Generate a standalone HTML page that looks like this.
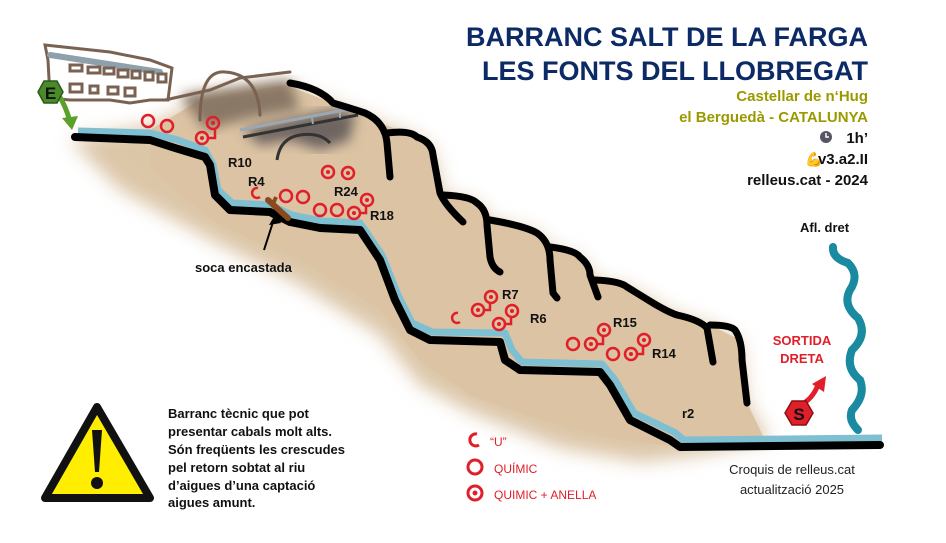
<!DOCTYPE html>
<html><head><meta charset="utf-8"><style>
html,body{margin:0;padding:0;background:#fff;}
svg{display:block;font-family:"Liberation Sans",Arial,sans-serif;}
.b{font-weight:bold;font-size:13px;fill:#111;}
</style></head><body>
<svg width="946" height="543" viewBox="0 0 946 543" xmlns="http://www.w3.org/2000/svg">
<defs>
<filter id="bl" x="-10%" y="-10%" width="120%" height="120%"><feGaussianBlur stdDeviation="9"/></filter>
<filter id="bl2"><feGaussianBlur stdDeviation="6"/></filter>
</defs>
<!-- tan area blurred -->
<path filter="url(#bl)" fill="#dcc6a8" d="M70,140 L150,125 L200,100 L285,85 L333,103 L380,123 L417,137 L433,150 L443,195 L477,203 L490,220 L537,233 L553,250 L580,257 L595,280 L627,287 L677,315 L710,325 L740,340 L747,403 L770,440 L700,455 L640,462 L560,448 L470,412 L420,385 L380,335 L300,285 L220,245 L120,190 Z"/>
<path fill="#dbc3a3" d="M150,130 L200,100 L285,85 L333,103 L380,123 L417,137 L433,150 L443,195 L477,203 L490,220 L537,233 L553,250 L580,257 L595,280 L627,287 L677,315 L710,325 L740,340 L747,403 L765,440 L690,448 L620,440 L540,420 L470,395 L420,360 L380,310 L300,260 L220,225 L150,170 Z"/>
<!-- shadows -->
<path filter="url(#bl2)" fill="#8a7866" d="M180,95 L290,80 L300,110 L250,118 L205,130 Z"/>
<path filter="url(#bl2)" fill="#6e6560" d="M243,130 L330,110 L355,112 L350,140 L320,150 L290,140 L260,145 Z"/>
<!-- building -->
<g fill="none" stroke="#7a6252" stroke-width="3" stroke-linecap="round">
<path d="M45,45 L110,52 L150,60 L172,68 L168,100 L150,100 L130,103 L110,100 L70,100 L50,98 L48,60 Z"/>
<path d="M50,55 L160,72" stroke="#8ea0aa" stroke-width="6"/>
<rect x="70" y="65" width="12" height="6"/><rect x="88" y="67" width="12" height="6"/><rect x="104" y="68" width="10" height="6"/><rect x="118" y="70" width="10" height="7"/><rect x="132" y="71" width="8" height="7"/><rect x="145" y="72" width="8" height="8"/><rect x="158" y="74" width="8" height="8"/>
<rect x="70" y="84" width="12" height="8"/><rect x="90" y="86" width="8" height="7"/><rect x="108" y="87" width="10" height="7"/><rect x="125" y="88" width="10" height="8"/>
<path d="M165,100 L210,90 L240,78 L290,72"/>
<path d="M200,120 Q200,70 225,72 Q258,74 260,115"/>
</g>
<!-- second bridge -->
<path d="M240,130 L355,108" stroke="#9aa8b4" stroke-width="3" fill="none"/>
<path d="M243,137 L358,115" stroke="#333" stroke-width="3" fill="none"/>
<path d="M312,118 L313,124 M340,112 L340,118" stroke="#9aa8b4" stroke-width="2"/>
<path d="M277,160 Q280,138 300,135 Q320,132 330,143" stroke="#333" stroke-width="3" fill="none"/>
<!-- ridges -->
<g fill="none" stroke="#000" stroke-width="7" stroke-linecap="round" stroke-linejoin="round">
<path d="M290,83 Q320,88 333,103 Q350,108 365,113 Q385,122 387,143 L390,177"/>
<path d="M387,133 Q410,130 417,137 Q432,142 433,155 L440,193 Q445,205 463,222"/>
<path d="M443,195 Q470,196 477,203 Q487,210 487,225 L490,257 Q492,268 500,272"/>
<path d="M490,220 Q525,226 537,233 Q550,242 550,260 L553,293 L557,298"/>
<path d="M550,247 Q575,250 580,257 Q590,265 590,275 L598,297"/>
<path d="M595,280 Q620,281 627,287 Q640,295 653,303 Q668,312 677,315 Q700,320 707,328 Q710,345 713,362"/>
<path d="M710,325 Q730,325 735,330 Q742,340 742,360 L747,403"/>
</g>
<!-- river -->
<path d="M78,131 L150,133 L178,140 L205,150 L213,165 L218,190 L232,203 L270,205 L292,215 L322,221 L360,223 L382,255 L398,295 L412,323 L432,332 L505,333 L512,350 L522,362 L602,364 L615,380 L634,413 L674,432 L684,440 L882,438" fill="none" stroke="#7fbfd2" stroke-width="7" stroke-linejoin="round"/>
<path d="M75,137 L150,140 L175,148 L205,157 L210,165 L215,195 L230,210 L270,212 L290,222 L320,228 L360,230 L380,260 L395,300 L410,330 L430,340 L500,342 L505,360 L520,370 L600,372 L610,385 L630,420 L670,440 L680,447 L880,445" fill="none" stroke="#000" stroke-width="8" stroke-linecap="round" stroke-linejoin="round"/>
<!-- stump -->
<path d="M268,200 L288,218" stroke="#8a4a1f" stroke-width="6" stroke-linecap="round"/>
<path d="M273,204 L276,197" stroke="#8a4a1f" stroke-width="4"/>
<path d="M274,219 L264,250" stroke="#000" stroke-width="2"/>
<path d="M276,213 L269,225 L281,223 Z" fill="#000"/>
<!-- tributary -->
<path d="M833,247 Q832,258 848,263 Q860,275 850,290 Q842,305 858,318 Q868,335 852,350 Q845,368 860,380 Q866,395 852,410 Q848,420 858,430" fill="none" stroke="#1a8aa0" stroke-width="8" stroke-linecap="round"/>
<!-- markers -->
<g fill="none" stroke="#e01f2a" stroke-width="2.5">
<circle cx="148" cy="121" r="6"/><circle cx="167" cy="126" r="6"/>
<circle cx="286" cy="196" r="6"/><circle cx="303" cy="197" r="6"/><circle cx="320" cy="210" r="6"/><circle cx="337" cy="210" r="6"/>
<circle cx="573" cy="344" r="6"/><circle cx="613" cy="354" r="6"/>
<circle cx="202" cy="138" r="6"/><circle cx="213" cy="123" r="6"/><path d="M208,138 L215,138 L215,129"/>
<circle cx="328" cy="172" r="6"/><circle cx="348" cy="173" r="6"/>
<circle cx="367" cy="200" r="6"/><circle cx="354" cy="213" r="6"/><path d="M360,213 L366,213 L366,206"/>
<circle cx="491" cy="297" r="6"/><circle cx="478" cy="310" r="6"/><path d="M484,310 L490,310 L490,303"/>
<circle cx="512" cy="311" r="6"/><circle cx="499" cy="324" r="6"/><path d="M505,324 L511,324 L511,317"/>
<circle cx="591" cy="344" r="6"/><circle cx="604" cy="330" r="6"/><path d="M597,344 L603,344 L603,336"/>
<circle cx="631" cy="354" r="6"/><circle cx="644" cy="340" r="6"/><path d="M637,354 L643,354 L643,346"/>
<path d="M258,188 A5,5 0 1 0 260,197"/><path d="M458,313 A5,5 0 1 0 460,322"/>
<circle cx="475" cy="467" r="7" stroke-width="3"/><circle cx="475" cy="493" r="7" stroke-width="3"/>
<path d="M477,434 A6,6 0 1 0 479,445" stroke-width="3"/>
</g>
<g fill="#e01f2a">
<circle cx="202" cy="138" r="2"/><circle cx="213" cy="123" r="2"/><circle cx="328" cy="172" r="2"/><circle cx="348" cy="173" r="2"/><circle cx="367" cy="200" r="2"/><circle cx="354" cy="213" r="2"/>
<circle cx="491" cy="297" r="2"/><circle cx="478" cy="310" r="2"/><circle cx="512" cy="311" r="2"/><circle cx="499" cy="324" r="2"/>
<circle cx="591" cy="344" r="2"/><circle cx="604" cy="330" r="2"/><circle cx="631" cy="354" r="2"/><circle cx="644" cy="340" r="2"/><circle cx="475" cy="493" r="2.5"/>
</g>
<!-- labels -->
<text class="b" x="228" y="167">R10</text><text class="b" x="248" y="186">R4</text>
<text class="b" x="334" y="196">R24</text><text class="b" x="370" y="220">R18</text>
<text class="b" x="502" y="299">R7</text><text class="b" x="530" y="323">R6</text>
<text class="b" x="613" y="327">R15</text><text class="b" x="652" y="358">R14</text>
<text class="b" x="682" y="418">r2</text>
<text class="b" x="195" y="272">soca encastada</text>
<text class="b" x="800" y="232">Afl. dret</text>
<text x="802" y="345" text-anchor="middle" font-weight="bold" font-size="13" fill="#e01f2a">SORTIDA</text>
<text x="802" y="363" text-anchor="middle" font-weight="bold" font-size="13" fill="#e01f2a">DRETA</text>
<!-- E hexagon -->
<path d="M58,94 Q66,106 70,122" stroke="#5aa02a" stroke-width="5" fill="none"/>
<path d="M62,118 L78,116 L72,130 Z" fill="#5aa02a"/>
<polygon points="38,92 44,81 57,81 63,92 57,103 44,103" fill="#4a8a2a" stroke="#2a5a1a" stroke-width="1.5"/>
<text x="50.5" y="99" text-anchor="middle" font-weight="bold" font-size="17" fill="#111">E</text>
<!-- S hexagon -->
<path d="M800,405 Q812,400 818,385" stroke="#e01f2a" stroke-width="5" fill="none"/>
<path d="M812,384 L826,376 L824,392 Z" fill="#e01f2a"/>
<polygon points="785,413 792,401 806,401 813,413 806,425 792,425" fill="#e01f2a" stroke="#8a1010" stroke-width="1.5"/>
<text x="799" y="420" text-anchor="middle" font-weight="bold" font-size="17" fill="#111">S</text>
<!-- title -->
<g text-anchor="end">
<text x="868" y="46" font-weight="bold" font-size="27" fill="#0c2a66">BARRANC SALT DE LA FARGA</text>
<text x="868" y="80" font-weight="bold" font-size="27" fill="#0c2a66">LES FONTS DEL LLOBREGAT</text>
<text x="868" y="101" font-weight="bold" font-size="15" fill="#9a9a00">Castellar de n‘Hug</text>
<text x="868" y="122" font-weight="bold" font-size="15" fill="#9a9a00">el Berguedà - CATALUNYA</text>
<text x="868" y="143" font-weight="bold" font-size="15" fill="#111">1h’</text>
<text x="868" y="164" font-weight="bold" font-size="15" fill="#111">v3.a2.II</text>
<text x="868" y="185" font-weight="bold" font-size="15" fill="#111">relleus.cat - 2024</text>
</g>
<circle cx="826" cy="137" r="6" fill="#556" /><path d="M826,133 L826,137 L829,137" stroke="#fff" stroke-width="1.5" fill="none"/>
<text x="805" y="164" font-size="14" fill="#e8a800">💪</text>
<!-- warning -->
<path d="M97,407 L150,498 L45,498 Z" fill="#ffee00" stroke="#111" stroke-width="8" stroke-linejoin="round"/>
<path d="M92,430 L102,430 L99,472 L95,472 Z" fill="#111"/><circle cx="97" cy="483" r="6" fill="#111"/>
<g class="b" font-size="13.5">
<text class="b" x="168" y="418">Barranc tècnic que pot</text>
<text class="b" x="168" y="436">presentar cabals molt alts.</text>
<text class="b" x="168" y="454">Són freqüents les crescudes</text>
<text class="b" x="168" y="472">pel retorn sobtat al riu</text>
<text class="b" x="168" y="490">d’aigues d’una captació</text>
<text class="b" x="168" y="507">aigues amunt.</text>
</g>
<text x="490" y="446" font-size="12" fill="#e01f2a">“U”</text>
<text x="494" y="473" font-size="12" fill="#e01f2a">QUÍMIC</text>
<text x="494" y="499" font-size="12" fill="#e01f2a">QUIMIC + ANELLA</text>
<text x="792" y="474" text-anchor="middle" font-size="13" fill="#222">Croquis de relleus.cat</text>
<text x="792" y="494" text-anchor="middle" font-size="13" fill="#222">actualització 2025</text>
</svg>
</body></html>
